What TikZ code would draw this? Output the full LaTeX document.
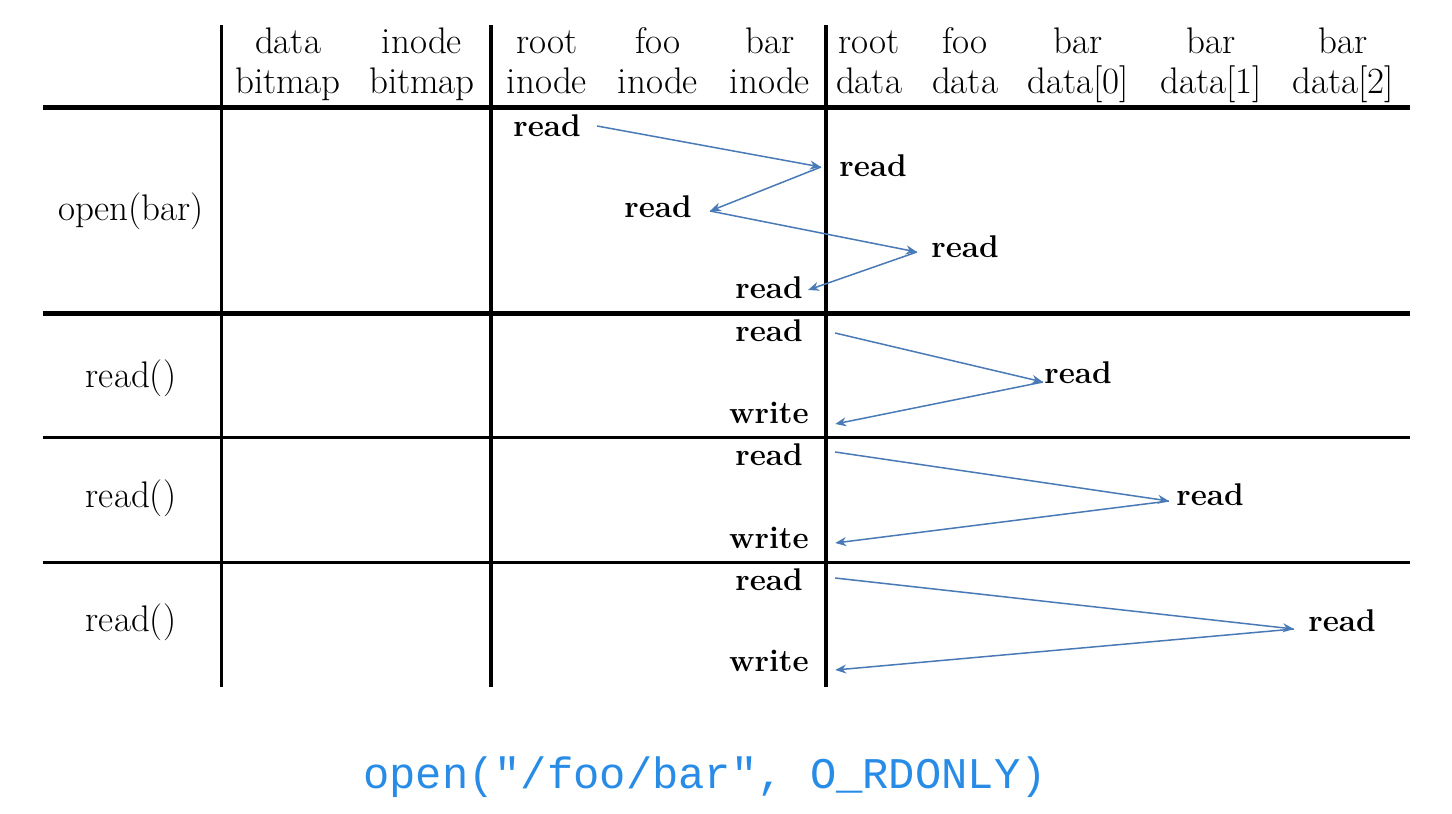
\documentclass[tikz,border=0pt]{standalone}
\usepackage{fontspec}
\newfontfamily\codefont{Liberation Mono}
\usetikzlibrary{arrows.meta,calc}
\definecolor{arrowblue}{RGB}{74,122,181}
\definecolor{codeblue}{RGB}{40,140,230}
\begin{document}
\begin{tikzpicture}[x=0.5pt,y=-0.5pt,
  hdr/.style={anchor=base,inner sep=0pt,font=\fontsize{18.5}{22}\selectfont},
  rowlabel/.style={anchor=base,inner sep=0pt,font=\fontsize{18.5}{22}\selectfont},
  op/.style={anchor=base,inner sep=0pt,font=\bfseries\fontsize{15.7}{19}\selectfont},
  flow/.style={draw=arrowblue,line width=0.75pt,-{Stealth[length=5.5pt,width=4.5pt]}},
  heavy/.style={line width=2.5pt},
  medium/.style={line width=1.9pt},
  light/.style={line width=1.5pt}]
\useasboundingbox (0,0) rectangle (1452,814);

% grid lines
\draw[heavy] (43,107) -- (1410,107);
\draw[heavy] (43,313) -- (1410,313);
\draw[light] (43,437) -- (1410,437);
\draw[light] (43,562) -- (1410,562);
\draw[light] (221,25) -- (221,687);
\draw[medium] (491,25) -- (491,687);
\draw[medium] (826,25) -- (826,687);

% column headings
\foreach \n/\x/\a/\b in {c1/288/data/bitmap, c2/422/inode/bitmap,
    c3/547/root/inode, c4/658/foo/inode, c5/770/bar/inode,
    c6/869/root/data, c7/965/foo/data, c8/1078/bar/data[0],
    c9/1211/bar/data[1], c10/1343/bar/data[2]} {
  \node[hdr] (\n a) at (\x,53) {\a};
  \node[hdr] (\n b) at (\x,93) {\b};
}

% row labels
\node[rowlabel] (l1) at (131,220) {open(bar)};
\node[rowlabel] (l2) at (131,387) {read()};
\node[rowlabel] (l3) at (131,507) {read()};
\node[rowlabel] (l4) at (131,631) {read()};

% open(bar): path lookup
\node[op] (r1) at (547,136) {read};
\node[op] (r2) at (873,176) {read};
\node[op] (r3) at (658,217) {read};
\node[op] (r4) at (965,257) {read};
\node[op] (r5) at (769,298) {read};
\draw[flow] ($(r1.base east)+(16,-10)$) -- ($(r2.base west)+(-18,-9)$);
\draw[flow] ($(r2.base west)+(-18,-9)$) -- ($(r3.base east)+(18,-6)$);
\draw[flow] ($(r3.base east)+(18,-6)$) -- ($(r4.base west)+(-14,-5)$);
\draw[flow] ($(r4.base west)+(-14,-5)$) -- ($(r5.base east)+(5,-8)$);

% first read()
\node[op] (a1) at (769,341) {read};
\node[op] (a2) at (1078,383) {read};
\node[op] (a3) at (769,423) {write};
\draw[flow] ($(a1.base east)+(32,-8)$) -- ($(a2.base west)+(-1,-1)$);
\draw[flow] ($(a2.base west)+(-1,-1)$) -- ($(a3.base east)+(26,1)$);

% second read()
\node[op] (b1) at (769,465) {read};
\node[op] (b2) at (1210,505) {read};
\node[op] (b3) at (769,548) {write};
\draw[flow] ($(b1.base east)+(32,-13)$) -- ($(b2.base west)+(-7,-4)$);
\draw[flow] ($(b2.base west)+(-7,-4)$) -- ($(b3.base east)+(26,-5)$);

% third read()
\node[op] (d1) at (769,590) {read};
\node[op] (d2) at (1342,631) {read};
\node[op] (d3) at (769,671) {write};
\draw[flow] ($(d1.base east)+(32,-12)$) -- ($(d2.base west)+(-14,-2)$);
\draw[flow] ($(d2.base west)+(-14,-2)$) -- ($(d3.base east)+(26,-1)$);

% system call
\node[anchor=base,inner sep=0pt,text=codeblue,font=\codefont\fontsize{21.9}{26}\selectfont]
  (call) at (705,788) {open("/foo/bar", O\_RDONLY)};
\end{tikzpicture}
\end{document}
